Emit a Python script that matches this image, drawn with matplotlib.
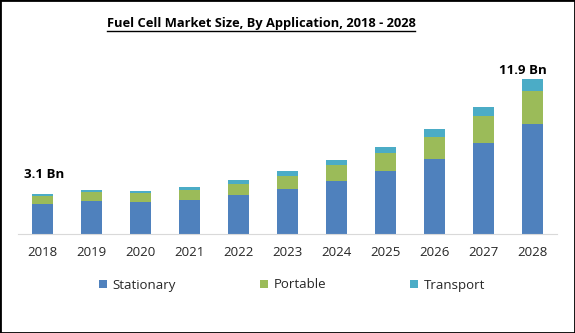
import matplotlib
matplotlib.use('Agg')
import matplotlib.pyplot as plt
import numpy as np
from matplotlib.lines import Line2D
from matplotlib.patches import Rectangle

years = ['2018', '2019', '2020', '2021', '2022', '2023', '2024', '2025', '2026', '2027', '2028']
stationary = [2.31, 2.54, 2.46, 2.62, 3.00, 3.46, 4.08, 4.85, 5.77, 7.00, 8.46]
portable = [0.62, 0.69, 0.69, 0.77, 0.85, 1.00, 1.23, 1.38, 1.69, 2.08, 2.54]
transport = [0.15, 0.15, 0.15, 0.23, 0.31, 0.38, 0.38, 0.46, 0.62, 0.69, 0.92]
series_names = ['Stationary', 'Portable', 'Transport']
colors = ['#4F81BD', '#9BBB59', '#4BACC6']

plt.rcParams['font.family'] = ['Open Sans', 'DejaVu Sans']

fig = plt.figure(figsize=(5.75, 3.33), dpi=100)
ax = fig.add_axes([18/575, 99/333, 539/575, 169/333])

x = np.arange(len(years))
w = 0.41
bottom = np.zeros(len(years))
for vals, name, c in zip([stationary, portable, transport], series_names, colors):
    ax.bar(x, vals, w, bottom=bottom, color=c, label=name)
    bottom = bottom + np.array(vals)

ax.set_xlim(-0.5, len(years) - 0.5)
ax.set_ylim(0, 13)
ax.set_xticks(x)
ax.set_xticklabels(years, fontsize=9.5, color='#262626')
ax.tick_params(axis='x', length=0, pad=9)
ax.set_yticks([])
for s in ['top', 'right', 'left']:
    ax.spines[s].set_visible(False)
ax.spines['bottom'].set_color('#D9D9D9')

ax.annotate('3.1 Bn', (x[0], bottom[0]), xytext=(2, 19), textcoords='offset pixels',
            ha='center', va='center', fontsize=9.5, fontweight='bold')
ax.annotate('11.9 Bn', (x[-1], bottom[-1]), xytext=(-10, 9), textcoords='offset pixels',
            ha='center', va='center', fontsize=9.5, fontweight='bold')

leg = fig.legend(loc='center', bbox_to_anchor=(292/575, 1 - 285/333), ncol=3, frameon=False,
                 fontsize=9.5, handlelength=0.6, handleheight=0.6, handletextpad=0.4,
                 columnspacing=6.4)
for t in leg.get_texts():
    t.set_color('#262626')

title = fig.text(261/575, 1 - 24/333, 'Fuel Cell Market Size, By Application, 2018 - 2028',
                 ha='center', va='center', fontsize=9.3, fontweight='bold')
fig.canvas.draw()
bb = title.get_window_extent().transformed(fig.transFigure.inverted())
fig.add_artist(Line2D([bb.x0, bb.x1], [1 - 31/333] * 2, color='black', lw=1,
                      transform=fig.transFigure))

fig.add_artist(Rectangle((0, 0), 1, 1, transform=fig.transFigure, fill=False,
                         edgecolor='black', lw=2))

plt.savefig('out.png', dpi=100)
